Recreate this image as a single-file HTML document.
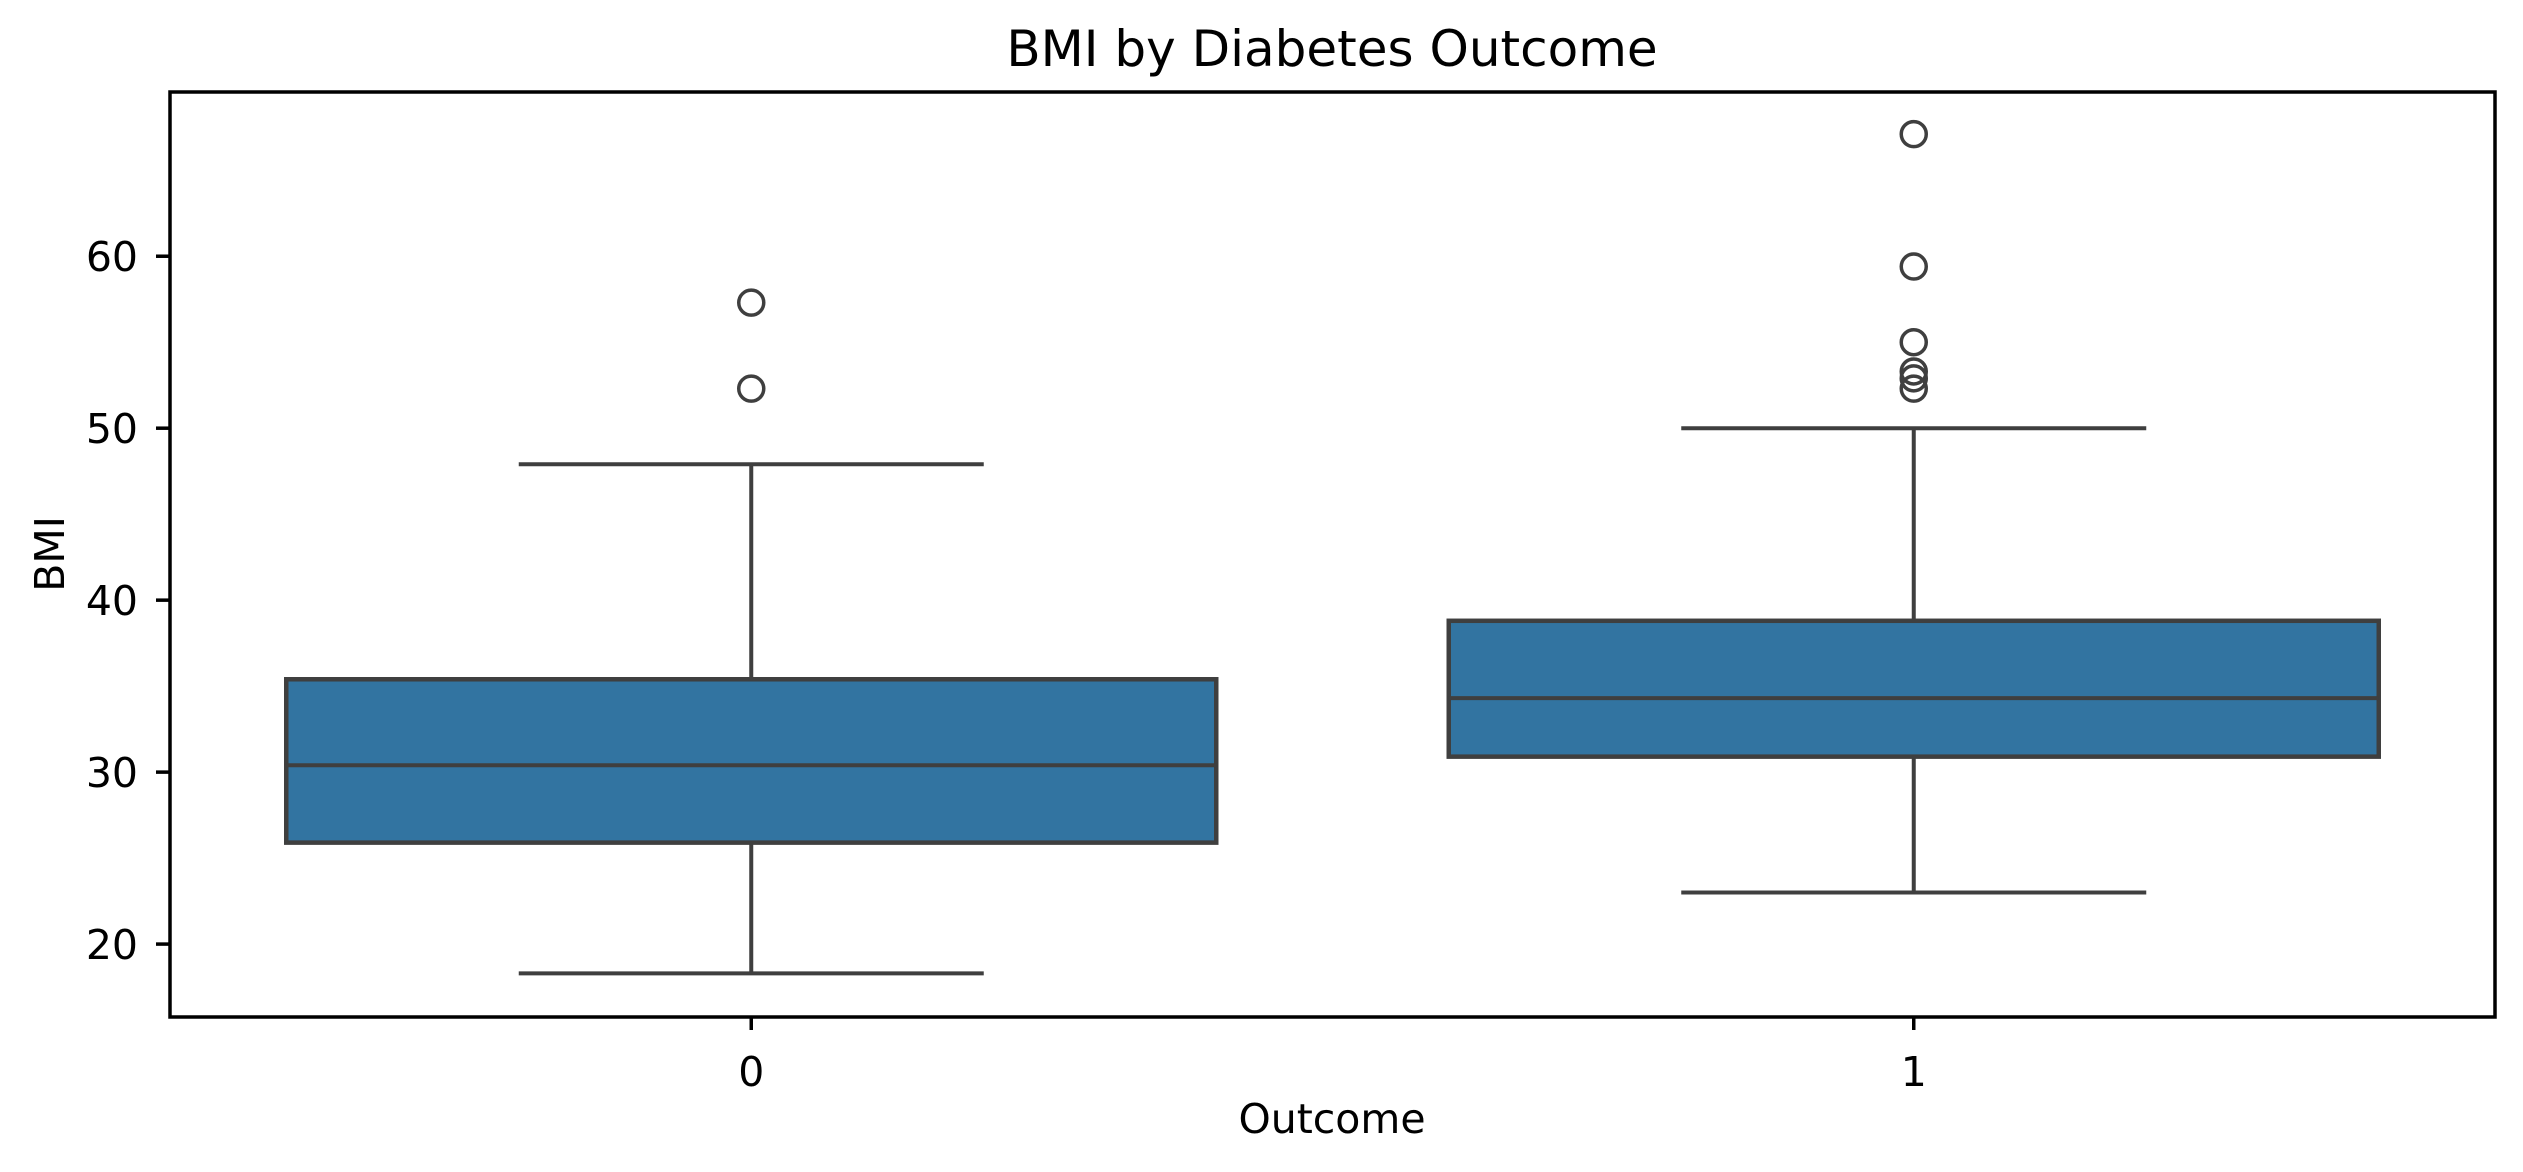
<!DOCTYPE html>
<html><head><meta charset="utf-8"><style>
html,body{margin:0;padding:0;background:#fff;}
svg{display:block;font-family:"DejaVu Sans","Liberation Sans",sans-serif;}
</style></head><body>
<svg id="chart" width="2523" height="1172" viewBox="0 0 2523 1172" xmlns="http://www.w3.org/2000/svg">
<rect x="0" y="0" width="2523" height="1172" fill="#fff"/>
<text x="1332" y="66" font-size="50" text-anchor="middle" fill="#000">BMI by Diabetes Outcome</text>
<g id="plot"></g>
<rect x="170" y="92" width="2325" height="925" fill="none" stroke="#000" stroke-width="3.5"/>
<text x="1332" y="1133" font-size="41" text-anchor="middle" fill="#000">Outcome</text>
<text x="0" y="0" font-size="41" text-anchor="middle" fill="#000" transform="translate(64,554) rotate(-90)">BMI</text>
</svg>
<script>
const categories = ["0", "1"];
const q1 = [25.9, 30.9];
const medians = [30.4, 34.3];
const q3 = [35.4, 38.8];
const whiskerLow = [18.3, 23.0];
const whiskerHigh = [47.9, 50.0];
const outliers0 = [57.3, 52.3];
const outliers1 = [67.1, 59.4, 55.0, 53.3, 52.9, 52.3];
const yTicks = [20, 30, 40, 50, 60];

const NS = "http://www.w3.org/2000/svg";
const L = 170, R = 2495, T = 92, B = 1017;
const yMin = 15.76, yMax = 69.55;
function y(v){ return B - (v - yMin) / (yMax - yMin) * (B - T); }
const band = (R - L) / categories.length;
function xc(i){ return L + band * (i + 0.5); }
const plot = document.getElementById('plot');
const svg = document.getElementById('chart');
function mk(tag, attrs, parent){
  const e = document.createElementNS(NS, tag);
  for (const k in attrs) e.setAttribute(k, attrs[k]);
  (parent || plot).appendChild(e);
  return e;
}
const LC = "#3f3f3f";
const allOut = [outliers0, outliers1];
categories.forEach((c, i) => {
  const cx = xc(i), bw = band * 0.8, cw = band * 0.4;
  let e;
  e = mk('line', {x1: cx, x2: cx, y1: y(whiskerLow[i]), y2: y(q1[i]), stroke: LC, 'stroke-width': 4});
  
  
  e = mk('line', {x1: cx, x2: cx, y1: y(q3[i]), y2: y(whiskerHigh[i]), stroke: LC, 'stroke-width': 4});
  
  
  e = mk('line', {x1: cx - cw/2, x2: cx + cw/2, y1: y(whiskerLow[i]), y2: y(whiskerLow[i]), stroke: LC, 'stroke-width': 4});
  
  
  e = mk('line', {x1: cx - cw/2, x2: cx + cw/2, y1: y(whiskerHigh[i]), y2: y(whiskerHigh[i]), stroke: LC, 'stroke-width': 4});
  
  
  e = mk('rect', {x: cx - bw/2, y: y(q3[i]), width: bw, height: y(q1[i]) - y(q3[i]), fill: '#3274a1', stroke: LC, 'stroke-width': 4.5});
  
  
  e = mk('line', {x1: cx - bw/2, x2: cx + bw/2, y1: y(medians[i]), y2: y(medians[i]), stroke: LC, 'stroke-width': 4});
  
  
  allOut[i].forEach(v => {
    const o = mk('circle', {cx: cx, cy: y(v), r: 12.5, fill: 'none', stroke: LC, 'stroke-width': 3.5});
    
    
  });
  e = mk('line', {x1: cx, x2: cx, y1: B, y2: B + 13, stroke: '#000', 'stroke-width': 3.5}, svg);
  
  
  e = mk('text', {x: cx, y: 1086, 'font-size': 41, 'text-anchor': 'middle', fill: '#000'}, svg);
  e.textContent = c;
  
  
});
yTicks.forEach(t => {
  let e = mk('line', {x1: L - 14, x2: L, y1: y(t), y2: y(t), stroke: '#000', 'stroke-width': 3.5}, svg);
  
  
  e = mk('text', {x: 138, y: y(t) + 15, 'font-size': 41, 'text-anchor': 'end', fill: '#000'}, svg);
  e.textContent = t;
  
  
});
</script>
</body></html>
